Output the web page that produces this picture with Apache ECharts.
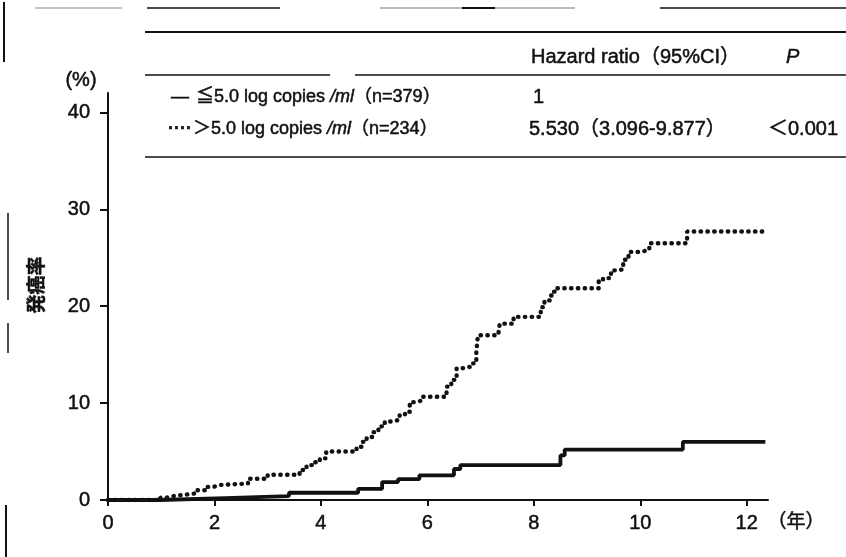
<!DOCTYPE html>
<html>
<head>
<meta charset="utf-8">
<script src="https://cdn.jsdelivr.net/npm/echarts@6/dist/echarts.min.js"></script>
<style>
html,body{margin:0;padding:0;background:#fff;}
#chart{width:846px;height:557px;}
</style>
</head>
<body>
<div id="chart"></div>
<script>
// ---- data ----
const xTicks = [0, 2, 4, 6, 8, 10, 12];
const yTicks = [0, 10, 20, 30, 40];

// ≦5.0 log copies/ml (solid) : time (years) and cumulative incidence (%)
const lowTime = [0, 0.98, 2.2, 3.4, 4.7, 5.15, 5.45, 5.85, 6.5, 6.62, 8.5, 8.58, 10.8, 12.35];
const lowRate = [0, 0.2, 0.4, 0.75, 1.15, 1.85, 2.15, 2.55, 3.2, 3.6, 4.6, 5.2, 6.0, 6.0];

// >5.0 log copies/ml (dotted)
const highTime = [0, 0.98, 1.1, 1.23, 1.45, 1.67, 1.82, 1.98, 2.1, 2.63, 3.0, 3.6, 3.73, 3.85, 3.98, 4.1,
  4.67, 4.78, 4.86, 4.98, 5.08, 5.2, 5.36, 5.48, 5.58, 5.67, 5.78, 5.92, 6.36, 6.45, 6.55, 6.66, 6.86,
  6.92, 6.95, 7.33, 7.36, 7.62, 8.13, 8.2, 8.3, 8.38, 8.43, 9.22, 9.3, 9.45, 9.55, 9.68, 9.78, 10.0,
  10.17, 10.88, 12.3];
const highRate = [0, 0.25, 0.4, 0.55, 0.7, 1.0, 1.35, 1.55, 1.7, 2.2, 2.6, 3.1, 3.6, 3.9, 4.3, 5.0,
  5.5, 6.0, 6.5, 7.0, 7.6, 8.1, 8.3, 8.8, 9.1, 10.1, 10.3, 10.65, 11.7, 12.4, 13.6, 13.8, 14.1,
  15.2, 17.0, 17.2, 18.2, 18.9, 19.9, 20.6, 21.1, 21.5, 21.85, 22.6, 22.9, 23.7, 23.8, 24.8, 25.6, 25.8,
  26.5, 27.7, 27.7];

const tableHeader = ['Hazard ratio（95%CI）', 'P'];
const rowLow = ['≦5.0 log copies ', '/ml', '（n=379）', '1', ''];
const rowHigh = ['＞5.0 log copies ', '/ml', '（n=234）', '5.530（3.096-9.877）', '＜0.001'];

// ---- chart ----
const FONT = "'Liberation Sans', 'Noto Sans CJK JP', sans-serif";
const INK = '#111';
const BW = 0.5; // slight stroke to mimic the heavy print
const chart = echarts.init(document.getElementById('chart'), null, {renderer: 'canvas'});

function pairs(t, v) { return t.map((x, i) => [x, v[i]]); }

function txt(x, y, text, opts) {
  return Object.assign({
    type: 'text', x: x, y: y, silent: true,
    style: Object.assign({text: text, fill: INK, font: '20px ' + FONT, verticalAlign: 'middle', align: 'left',
      stroke: INK, lineWidth: BW}, (opts && opts.style) || {})
  }, (opts && opts.el) || {});
}
function hline(x1, x2, y, w, c) {
  return {type: 'line', silent: true, shape: {x1: x1, y1: y, x2: x2, y2: y}, style: {stroke: c || INK, lineWidth: w || 1.5}};
}
function vline(x, y1, y2, w, c) {
  return {type: 'line', silent: true, shape: {x1: x, y1: y1, x2: x, y2: y2}, style: {stroke: c || INK, lineWidth: w || 1.5}};
}

const richStyle = {
  a: {fontSize: 18, fontFamily: FONT, fill: INK, stroke: INK, lineWidth: BW},
  i: {fontSize: 18, fontFamily: FONT, fontStyle: 'italic', fill: INK, stroke: INK, lineWidth: BW}
};
function richRow(x, y, parts) {
  return {type: 'text', x: x, y: y, silent: true,
    style: {text: '{a|' + parts[0] + '}{i|' + parts[1] + '}{a|' + parts[2] + '}', rich: richStyle,
      verticalAlign: 'middle', fill: INK, fontSize: 18, fontFamily: FONT}};
}

const axisLabelStyle = {color: INK, fontSize: 20, fontFamily: FONT, textBorderColor: INK, textBorderWidth: BW};

const option = {
  backgroundColor: '#fff',
  animation: false,
  grid: {left: 108, right: 78, top: 93, bottom: 57, outerBoundsMode: 'none'},
  xAxis: {
    type: 'value', min: 0, max: 12.4,
    axisLine: {show: true, lineStyle: {color: INK, width: 2}},
    axisTick: {show: true, length: 6, inside: false, customValues: xTicks, lineStyle: {color: INK, width: 2}},
    axisLabel: Object.assign({customValues: xTicks, margin: 13}, axisLabelStyle),
    splitLine: {show: false}
  },
  yAxis: {
    type: 'value', min: 0, max: 42,
    axisLine: {show: true, lineStyle: {color: INK, width: 2}},
    axisTick: {show: true, length: 8, inside: false, customValues: yTicks, lineStyle: {color: INK, width: 2}},
    axisLabel: Object.assign({customValues: yTicks, margin: 18}, axisLabelStyle),
    splitLine: {show: false}
  },
  series: [
    {
      name: '≦5.0', type: 'line', step: 'end', symbol: 'none',
      data: pairs(lowTime, lowRate),
      lineStyle: {color: INK, width: 3.8, type: 'solid'}
    },
    {
      name: '>5.0', type: 'line', step: 'end', symbol: 'none',
      data: pairs(highTime, highRate),
      lineStyle: {color: INK, width: 4.4, type: [0.4, 6.4], cap: 'round'}
    }
  ],
  graphic: [
    // scan artifacts along the top and left edges
    hline(35, 122, 8, 1, '#888'),
    hline(147, 280, 8, 1.5),
    hline(380, 575, 8, 1, '#777'),
    hline(462, 495, 8, 2),
    hline(660, 846, 8, 1.5),
    vline(4, 2, 62, 2),
    vline(8, 213, 300, 1.5),
    vline(8, 323, 353, 1.5),
    vline(6, 505, 557, 2),
    // table rules
    hline(145, 846, 32, 1.8),
    hline(145, 330, 75, 1.6),
    hline(355, 846, 75, 1.6),
    hline(145, 846, 157, 1.3),
    // header
    txt(531, 57, tableHeader[0]),
    txt(786, 57, tableHeader[1], {style: {font: 'italic 20px ' + FONT}}),
    // legend rows
    txt(171, 97, '—', {style: {font: '18px ' + FONT}}),
    richRow(196, 97, rowLow),
    txt(533, 97, rowLow[3]),
    txt(168, 129, '····', {style: {font: 'bold 18px ' + FONT}}),
    richRow(193, 129, rowHigh),
    txt(529, 129, rowHigh[3]),
    txt(768, 129, rowHigh[4]),
    // axis names
    txt(81, 80, '(%)', {style: {align: 'center', font: '20px ' + FONT}}),
    txt(38, 285, '発癌率', {style: {align: 'center', font: 'bold 19px ' + FONT}, el: {rotation: Math.PI / 2}}),
    txt(796, 523, '（年）', {style: {align: 'center', font: '19px ' + FONT}})
  ]
};
chart.setOption(option);
</script>
</body>
</html>
